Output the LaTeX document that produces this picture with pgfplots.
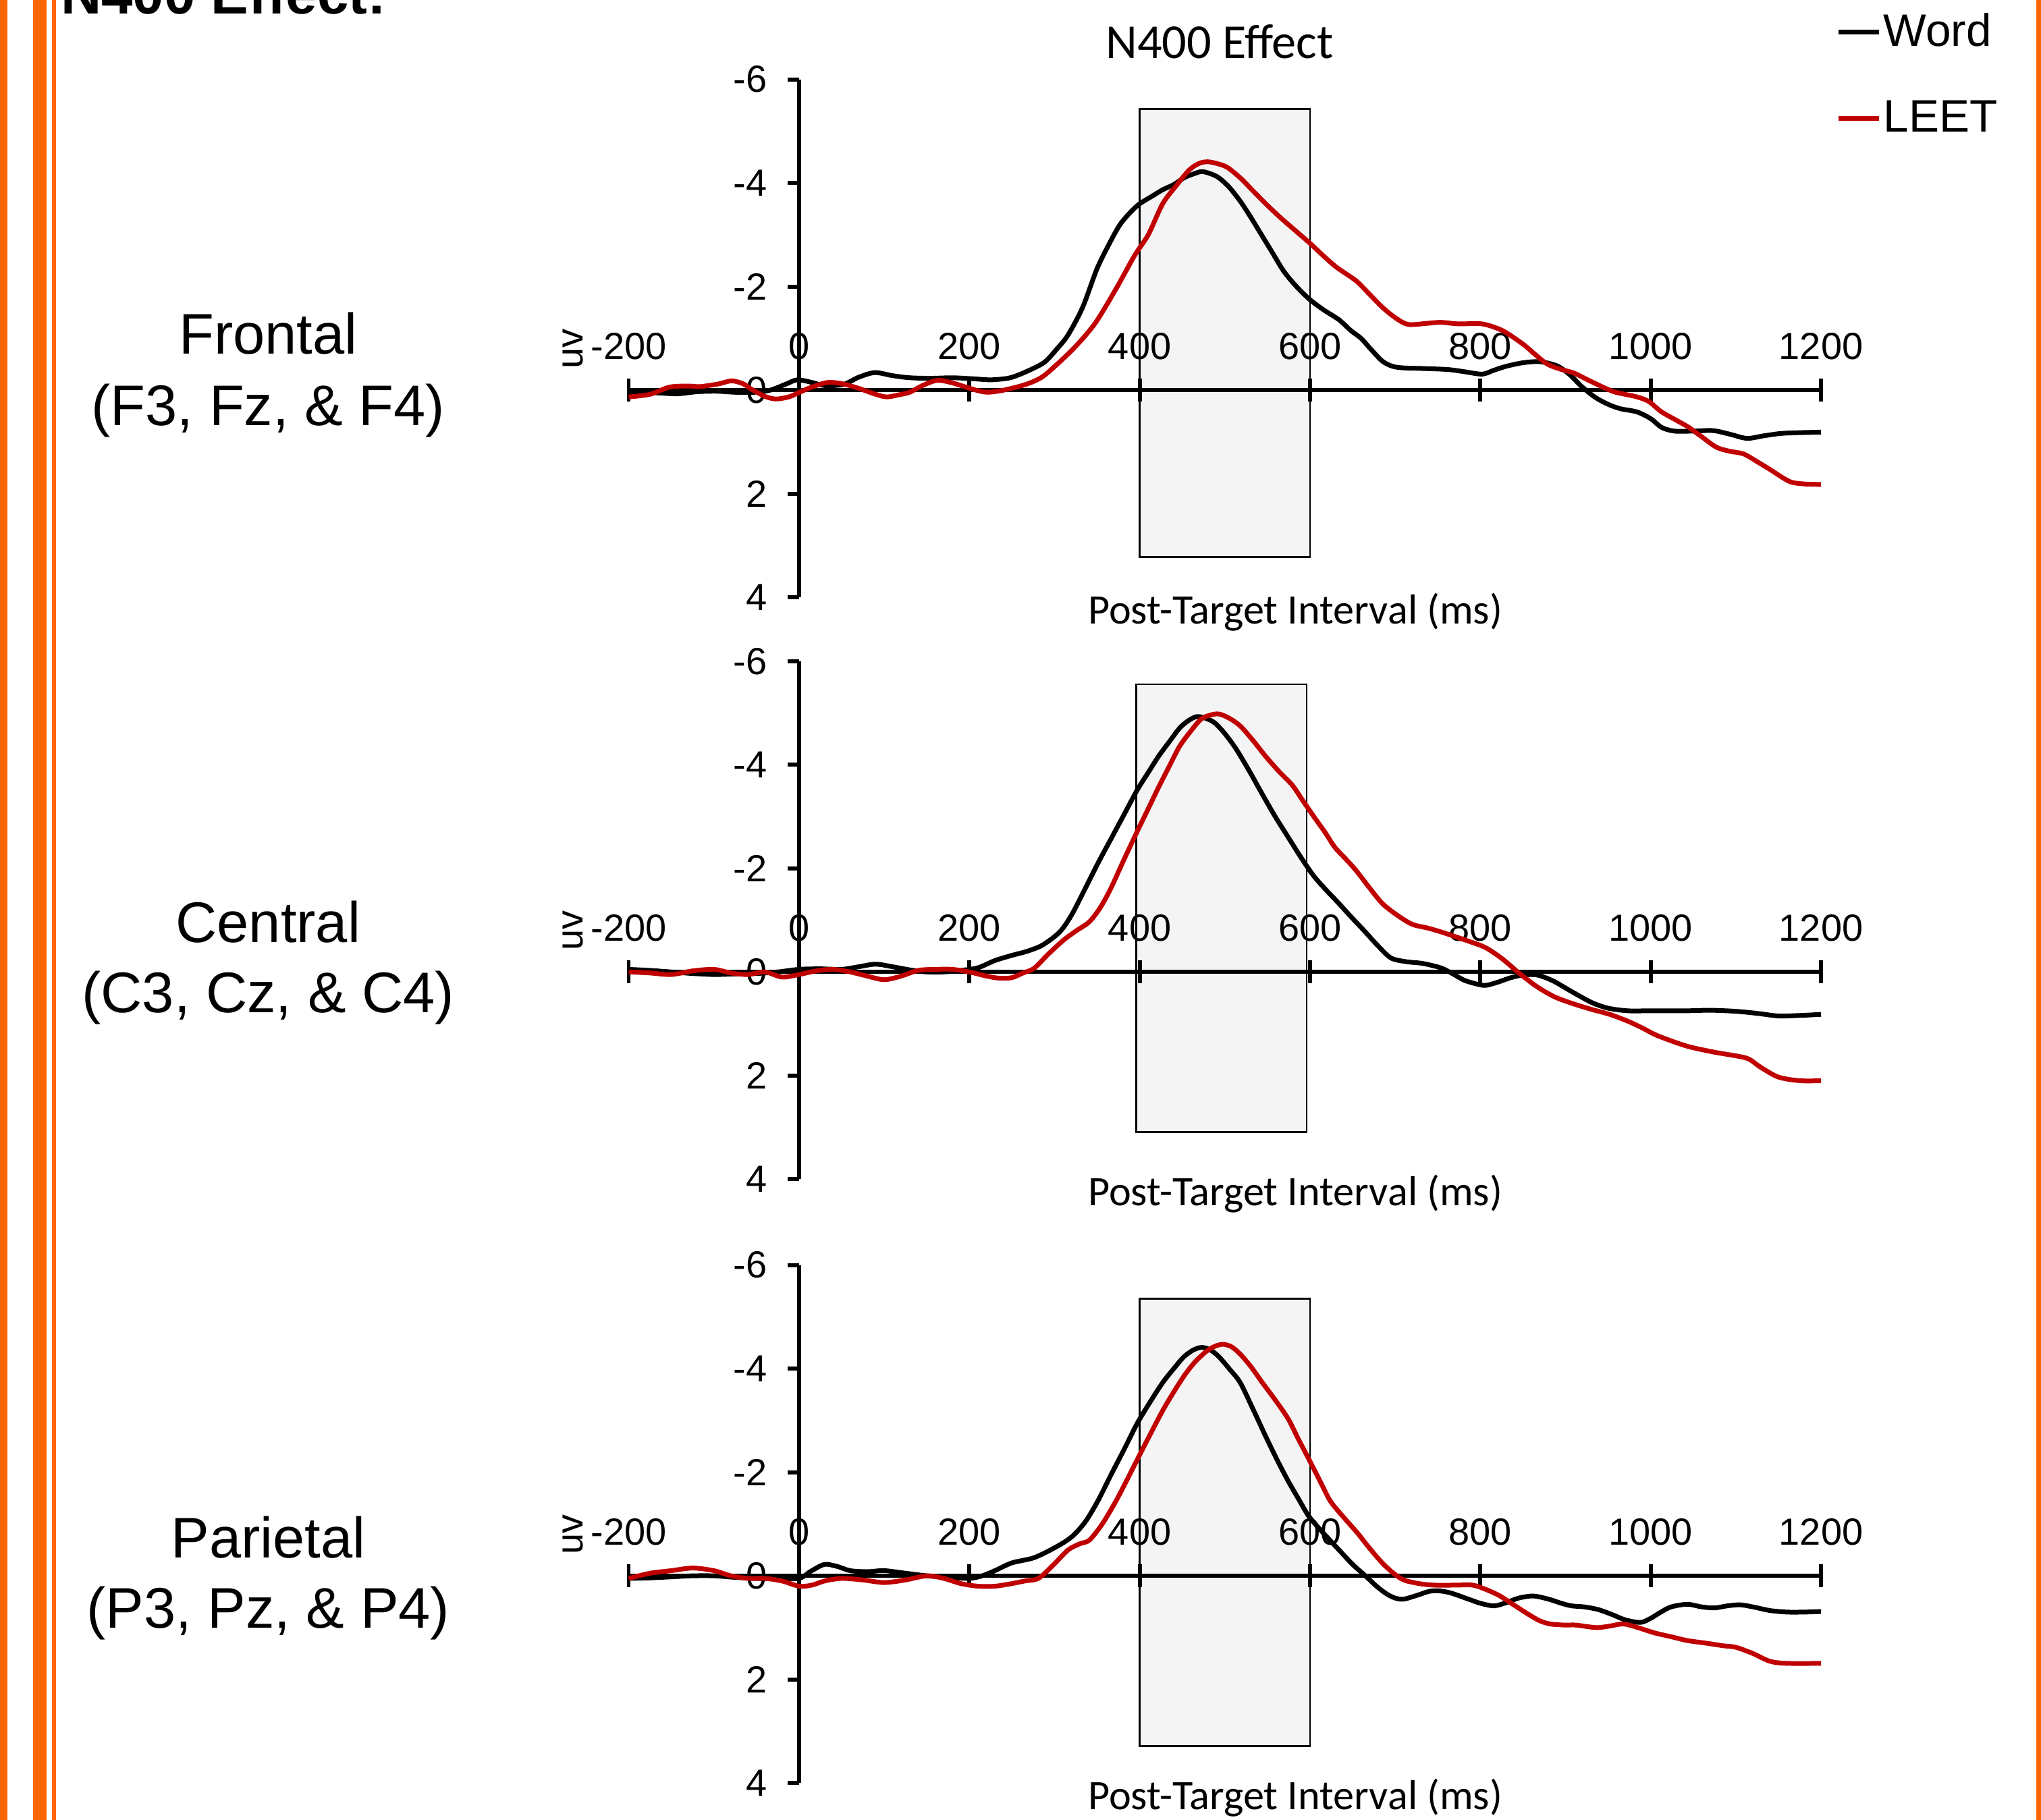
\documentclass[border=0pt]{standalone}
\usepackage{pgfplots}
\pgfplotsset{compat=1.18}
\usepackage{fontspec}
\setmainfont{Liberation Sans}
\newfontfamily\calibri{Carlito}
\definecolor{leetred}{HTML}{C00000}
\definecolor{barorange}{HTML}{FF6600}

\pgfplotsset{
  erp/.style={
    scale only axis, width=366.4pt, height=159.2pt, anchor=south west,
    xmin=-200, xmax=1200, ymin=-6, ymax=4, y dir=reverse,
    axis lines=middle, axis line style={-, line width=1.3pt},
    hide obscured x ticks=false, hide obscured y ticks=false,
    xtick={-200,0,200,400,600,800,1000,1200},
    xticklabels={-200,0,200,400,600,800,1000,1200},
    ytick={-6,-4,-2,0,2,4},
    yticklabels={-6,-4,-2,0,2,4},
    tick align=center, major tick length=7pt,
    tick style={line width=1.2pt, black},
    % y ticks only on the left of the axis, shorter
    ytick style={xshift=-1.8pt, dash pattern=on 0pt off 1.7pt on 3.6pt off 10pt},
    ticklabel style={font=\fontsize{11.6}{13}\selectfont},
    xticklabel style={anchor=base, yshift=13pt},
    yticklabel style={anchor=east, xshift=-2.8pt},
    xlabel={\calibri Post-Target Interval (ms)},
    xlabel style={at={(axis description cs:0.559,-0.0513)}, anchor=base,
      font=\fontsize{12.9}{15}\selectfont},
    ylabel={uv},
    ylabel style={at={(axis description cs:-0.0469,0.4799)}, anchor=center,
      rotate=90, font=\fontsize{11.6}{13}\selectfont},
    clip=false,
  },
  word/.style={black, line width=1.45pt, smooth, tension=0.5},
  leet/.style={leetred, line width=1.45pt, smooth, tension=0.5},
  win/.style={draw=black, line width=0.5pt, fill=black, fill opacity=0.045, forget plot},
}

\begin{document}
\begin{tikzpicture}
\useasboundingbox (0,0) rectangle (627.2pt,-559.38pt);

% orange page rules
\fill[barorange] (0,0) rectangle (2.3pt,-559.38pt);
\fill[barorange] (10.2pt,0) rectangle (14.4pt,-559.38pt);
\fill[barorange] (15.9pt,0) rectangle (17.3pt,-559.38pt);
\fill[barorange] (625.8pt,0) rectangle (627.2pt,-559.38pt);

\node[anchor=base west, font=\bfseries\fontsize{17.3}{20}\selectfont] at (15.2pt,-4.2pt) {N400 Effect:};

\begin{scope}[font=\fontsize{17.6}{21}\selectfont]
\node[anchor=base] at (82.4pt,-108.8pt) {Frontal};
\node[anchor=base] at (82.4pt,-130.8pt) {(F3, Fz, \& F4)};
\node[anchor=base] at (82.4pt,-289.6pt) {Central};
\node[anchor=base] at (82.4pt,-311.2pt) {(C3, Cz, \& C4)};
\node[anchor=base] at (82.4pt,-478.8pt) {Parietal};
\node[anchor=base] at (82.4pt,-500.4pt) {(P3, Pz, \& P4)};
\end{scope}

% Frontal
\begin{axis}[erp, at={(193.2pt,-183.6pt)},
  title={\calibri N400 Effect},
  title style={at={(axis description cs:0.4956,1.0402)}, anchor=base, yshift=-6pt,
    font=\fontsize{15}{18}\selectfont},
  legend style={at={(axis description cs:1.012,1.133)}, anchor=north west,
    draw=none, fill=none, inner sep=0pt, row sep=14pt,
    font=\fontsize{14}{16}\selectfont, nodes={inner sep=0.6pt}},
  legend cell align=left,
  legend image code/.code={\draw[#1] (0pt,0pt) -- (12.6pt,0pt);},
]
\addplot[win] coordinates {(400,-5.43) (600,-5.43) (600,3.22) (400,3.22)} -- cycle;
\addplot[word] coordinates {
(-200,0.04) (-170,0.05) (-143,0.07) (-120,0.03) (-97,0.02) (-75,0.04) (-52,0.04)
(-34,0.00) (-15,-0.12) (-2,-0.20) (15,-0.15) (30,-0.09) (52,-0.11) (70,-0.25)
(89,-0.34) (110,-0.28) (130,-0.24) (155,-0.23) (180,-0.24) (205,-0.22) (225,-0.20)
(245,-0.23) (257,-0.29) (275,-0.42) (289,-0.55) (303,-0.80) (316,-1.07) (333,-1.60)
(350,-2.35) (365,-2.85) (377,-3.20) (390,-3.45) (400,-3.60) (415,-3.75) (427,-3.87)
(440,-3.97) (452,-4.10) (464,-4.18) (473,-4.22) (483,-4.18) (493,-4.10) (505,-3.92)
(518,-3.65) (530,-3.35) (543,-3.00) (556,-2.65) (569,-2.30) (583,-2.02) (599,-1.76)
(616,-1.55) (634,-1.36) (648,-1.15) (660,-1.00) (672,-0.78) (685,-0.56) (697,-0.46)
(710,-0.43) (730,-0.42) (761,-0.40) (780,-0.36) (802,-0.31) (815,-0.38) (830,-0.46)
(850,-0.53) (870,-0.55) (890,-0.47) (905,-0.30) (919,-0.07) (935,0.14) (951,0.28)
(965,0.36) (984,0.42) (1000,0.55) (1013,0.72) (1028,0.79) (1050,0.79) (1073,0.78)
(1093,0.85) (1113,0.93) (1133,0.88) (1153,0.835) (1175,0.82) (1200,0.81)
};
\addplot[leet] coordinates {
(-200,0.13) (-175,0.08) (-152,-0.06) (-130,-0.08) (-116,-0.07) (-95,-0.12) (-79,-0.18)
(-65,-0.12) (-57,-0.03) (-40,0.12) (-27,0.17) (-12,0.13) (-2,0.06) (15,-0.06)
(34,-0.15) (52,-0.12) (71,-0.03) (90,0.08) (103,0.13) (117,0.09) (130,0.04)
(145,-0.09) (162,-0.19) (178,-0.15) (194,-0.07) (208,0.00) (221,0.04) (240,0.00)
(266,-0.11) (285,-0.25) (303,-0.50) (325,-0.85) (348,-1.30) (372,-1.95) (394,-2.60)
(410,-3.00) (427,-3.60) (443,-3.95) (458,-4.25) (470,-4.38) (480,-4.41) (492,-4.37)
(503,-4.30) (518,-4.10) (533,-3.85) (548,-3.60) (564,-3.35) (580,-3.12) (599,-2.85)
(614,-2.62) (629,-2.40) (642,-2.25) (655,-2.10) (670,-1.85) (685,-1.60) (700,-1.40)
(715,-1.27) (737,-1.29) (753,-1.31) (775,-1.28) (802,-1.28) (826,-1.15) (850,-0.89)
(865,-0.68) (879,-0.50) (895,-0.40) (910,-0.33) (931,-0.16) (955,0.02) (970,0.08)
(984,0.13) (998,0.22) (1012,0.41) (1030,0.58) (1044,0.71) (1060,0.90) (1077,1.10)
(1093,1.18) (1109,1.23) (1125,1.38) (1141,1.54) (1156,1.70) (1166,1.78) (1180,1.81)
(1200,1.82)
};
\legend{Word, LEET}
\end{axis}

% Central
\begin{axis}[erp, at={(193.2pt,-362.4pt)}]
\addplot[win] coordinates {(396,-5.55) (596,-5.55) (596,3.09) (396,3.09)} -- cycle;
\addplot[word] coordinates {
(-200,-0.05) (-175,-0.03) (-150,0.00) (-125,0.03) (-100,0.05) (-75,0.04) (-50,0.03)
(-25,0.00) (0,-0.05) (25,-0.06) (50,-0.05) (70,-0.10) (90,-0.15) (110,-0.10)
(130,-0.04) (150,0.00) (170,0.00) (190,-0.03) (210,-0.08) (230,-0.22) (250,-0.32)
(268,-0.40) (286,-0.52) (306,-0.77) (320,-1.10) (336,-1.61) (351,-2.10) (366,-2.56)
(382,-3.05) (397,-3.51) (410,-3.85) (422,-4.16) (435,-4.45) (447,-4.71) (457,-4.85)
(467,-4.93) (477,-4.90) (488,-4.81) (500,-4.60) (513,-4.31) (528,-3.90) (543,-3.46)
(558,-3.03) (574,-2.61) (589,-2.22) (604,-1.86) (619,-1.58) (634,-1.32) (649,-1.05)
(665,-0.77) (680,-0.50) (695,-0.27) (712,-0.20) (730,-0.17) (742,-0.13) (755,-0.07)
(768,0.04) (781,0.16) (795,0.23) (806,0.26) (820,0.20) (836,0.11) (850,0.06)
(867,0.06) (885,0.17) (902,0.33) (917,0.47) (932,0.60) (950,0.70) (973,0.75)
(1000,0.75) (1042,0.75) (1070,0.74) (1100,0.76) (1125,0.80) (1150,0.85) (1175,0.84)
(1200,0.82)
};
\addplot[leet] coordinates {
(-200,0.00) (-175,0.02) (-150,0.05) (-125,-0.02) (-100,-0.05) (-80,0.02) (-60,0.05)
(-40,0.00) (-20,0.10) (0,0.05) (20,-0.02) (40,-0.05) (60,0.00) (80,0.08) (100,0.15)
(120,0.08) (140,-0.03) (160,-0.05) (180,-0.05) (200,0.00) (220,0.08) (235,0.12)
(250,0.11) (263,0.02) (276,-0.07) (293,-0.35) (311,-0.62) (326,-0.80) (341,-0.97)
(354,-1.25) (366,-1.61) (381,-2.15) (397,-2.71) (410,-3.15) (422,-3.56) (435,-3.98)
(447,-4.36) (460,-4.65) (472,-4.88) (483,-4.96) (493,-4.98) (505,-4.90) (518,-4.75)
(533,-4.47) (548,-4.16) (563,-3.88) (579,-3.61) (591,-3.32) (604,-3.01) (617,-2.71)
(629,-2.41) (642,-2.18) (654,-1.96) (670,-1.62) (685,-1.32) (702,-1.10) (720,-0.92)
(740,-0.84) (760,-0.74) (785,-0.60) (806,-0.47) (826,-0.25) (846,0.03) (866,0.28)
(887,0.48) (910,0.62) (932,0.73) (952,0.82) (973,0.95) (990,1.08) (1008,1.23)
(1042,1.43) (1075,1.55) (1100,1.62) (1115,1.68) (1130,1.85) (1150,2.03) (1175,2.10)
(1200,2.10)
};
\end{axis}

% Parietal
\begin{axis}[erp, at={(193.2pt,-548pt)}]
\addplot[win] coordinates {(400,-5.35) (600,-5.35) (600,3.29) (400,3.29)} -- cycle;
\addplot[word] coordinates {
(-200,0.05) (-175,0.04) (-150,0.02) (-125,0.00) (-100,0.00) (-75,0.03) (-50,0.05)
(-25,0.05) (0,0.05) (15,-0.10) (30,-0.22) (45,-0.18) (60,-0.10) (80,-0.08)
(100,-0.10) (125,-0.05) (150,0.00) (175,0.03) (200,0.05) (215,0.00) (230,-0.10)
(250,-0.25) (276,-0.35) (301,-0.55) (320,-0.75) (336,-1.04) (351,-1.45) (366,-1.94)
(382,-2.45) (397,-2.94) (412,-3.35) (427,-3.73) (440,-4.00) (452,-4.23) (463,-4.36)
(473,-4.41) (483,-4.36) (493,-4.23) (505,-4.00) (518,-3.73) (533,-3.22) (548,-2.69)
(561,-2.25) (574,-1.84) (587,-1.47) (599,-1.14) (617,-0.80) (634,-0.50) (650,-0.22)
(665,0.00) (678,0.20) (690,0.35) (700,0.43) (710,0.45) (725,0.38) (740,0.30)
(751,0.29) (765,0.33) (786,0.45) (800,0.53) (816,0.58) (830,0.52) (845,0.43)
(862,0.39) (880,0.45) (895,0.53) (907,0.58) (922,0.60) (938,0.65) (955,0.75)
(970,0.85) (988,0.90) (1000,0.82) (1012,0.70) (1024,0.60) (1043,0.55) (1060,0.60)
(1075,0.62) (1090,0.58) (1105,0.56) (1120,0.60) (1140,0.67) (1160,0.70) (1180,0.70)
(1200,0.69)
};
\addplot[leet] coordinates {
(-200,0.05) (-175,-0.05) (-150,-0.10) (-125,-0.15) (-100,-0.10) (-80,0.00) (-60,0.05)
(-40,0.05) (-20,0.10) (0,0.20) (15,0.18) (30,0.10) (50,0.05) (75,0.08) (100,0.13)
(125,0.08) (150,0.00) (170,0.05) (190,0.15) (210,0.20) (230,0.20) (250,0.15)
(265,0.10) (281,0.05) (298,-0.20) (316,-0.50) (330,-0.62) (341,-0.69) (356,-1.00)
(372,-1.44) (385,-1.85) (397,-2.24) (412,-2.72) (427,-3.19) (440,-3.55) (453,-3.88)
(465,-4.13) (478,-4.33) (488,-4.43) (498,-4.47) (508,-4.42) (518,-4.28) (530,-4.05)
(544,-3.73) (558,-3.42) (574,-3.04) (586,-2.65) (599,-2.24) (612,-1.82) (624,-1.44)
(640,-1.12) (655,-0.84) (670,-0.53) (685,-0.245) (698,-0.05) (710,0.08) (728,0.15)
(746,0.18) (770,0.18) (791,0.18) (806,0.26) (822,0.38) (840,0.57) (857,0.75)
(870,0.87) (882,0.93) (898,0.95) (912,0.95) (925,0.98) (938,1.00) (952,0.97)
(968,0.93) (985,1.00) (1004,1.10) (1025,1.18) (1043,1.25) (1065,1.30) (1085,1.35)
(1100,1.38) (1120,1.50) (1140,1.65) (1160,1.69) (1200,1.69)
};
\end{axis}
\end{tikzpicture}
\end{document}
